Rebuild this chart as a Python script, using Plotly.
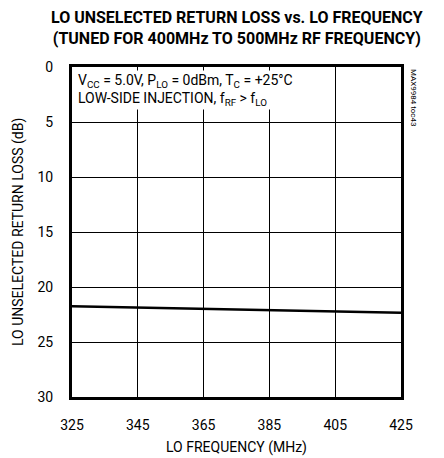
import plotly.graph_objects as go

freq_mhz = [325, 330, 335, 340, 345, 350, 355, 360, 365, 370, 375, 380, 385, 390, 395, 400, 405, 410, 415, 420, 425]
return_loss_db = [21.75, 21.78, 21.80, 21.83, 21.86, 21.89, 21.92, 21.95, 21.98, 22.01, 22.04, 22.07, 22.10, 22.13, 22.16, 22.19, 22.22, 22.25, 22.28, 22.31, 22.35]
x_ticks = [325, 345, 365, 385, 405, 425]
y_ticks = [0, 5, 10, 15, 20, 25, 30]

FONT = "Roboto, Liberation Sans, sans-serif"

fig = go.Figure()
fig.add_trace(go.Scatter(x=freq_mhz, y=return_loss_db, mode="lines",
                         line=dict(color="black", width=2.5), showlegend=False))

fig.update_layout(
    width=436, height=450,
    margin=dict(l=64, r=43, t=59, b=61, autoexpand=False),
    paper_bgcolor="white", plot_bgcolor="white",
    font=dict(family=FONT, color="black", size=14),
)
fig.update_xaxes(range=[325, 425], tickvals=x_ticks, ticks="", showgrid=True,
                 gridcolor="black", gridwidth=1, showline=True, linecolor="black",
                 linewidth=3, mirror=True, zeroline=False, automargin=False,
                 ticklabelstandoff=13, tickfont=dict(size=14))
fig.update_yaxes(range=[30, 0], tickvals=y_ticks, ticks="", showgrid=True,
                 gridcolor="black", gridwidth=1, showline=True, linecolor="black",
                 linewidth=3, mirror=True, zeroline=False, automargin=False,
                 ticklabelstandoff=13, tickfont=dict(size=14))

fig.add_annotation(text="LO FREQUENCY (MHz)", xref="paper", yref="paper", x=0.5, y=0,
                   yshift=-50, xanchor="center", yanchor="middle", showarrow=False,
                   font=dict(size=14, family=FONT))
fig.add_annotation(text="LO UNSELECTED RETURN LOSS (dB)", xref="paper", yref="paper", x=0, y=0.5,
                   xshift=-54, xanchor="center", yanchor="middle", textangle=-90, showarrow=False,
                   font=dict(size=14, family=FONT))
fig.add_annotation(
    text="<b>LO UNSELECTED RETURN LOSS vs. LO FREQUENCY<br>(TUNED FOR 400MHz TO 500MHz RF FREQUENCY)</b>",
    xref="paper", yref="paper", x=0.5, y=1.0, yshift=61, xanchor="center", yanchor="top",
    showarrow=False, font=dict(size=16, family=FONT), align="center")
fig.add_annotation(
    text="V<sub>CC</sub> = 5.0V, P<sub>LO</sub> = 0dBm, T<sub>C</sub> = +25°C<br>LOW-SIDE INJECTION, f<sub>RF</sub> > f<sub>LO</sub>",
    xref="paper", yref="paper", x=0.012, y=0.99, xanchor="left", yanchor="top",
    align="left", showarrow=False, bgcolor="white", font=dict(size=14, family=FONT))
fig.add_annotation(text="MAX9984 toc43", xref="paper", yref="paper", x=1.02, y=1.0,
                   xanchor="left", yanchor="top", textangle=90, showarrow=False,
                   font=dict(size=8, family=FONT))

fig.write_html("out.html")
